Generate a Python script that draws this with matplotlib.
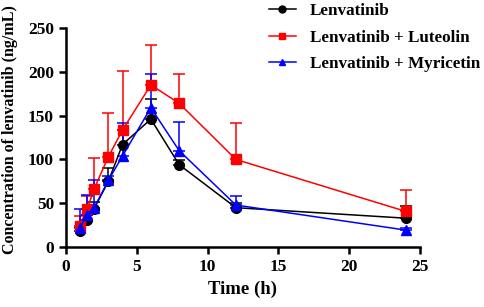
import matplotlib
matplotlib.use("Agg")
import matplotlib.pyplot as plt
from matplotlib.lines import Line2D
import numpy as np

plt.rcParams['font.family'] = ['Liberation Serif', 'DejaVu Serif']
plt.rcParams['font.weight'] = 'bold'

# sampling times (h)
time_h = [1, 1.5, 2, 3, 4, 6, 8, 12, 24]

# mean concentrations (ng/mL)
lenva = [18.6, 30.8, 44, 75, 117, 146, 94, 45, 33]
lenva_lut = [24, 43, 66.6, 103, 133.6, 185, 164, 100, 40.7]
lenva_myr = [22, 37, 45, 76, 104, 159, 110, 48, 19.4]

# upper SD
lenva_sd = [4, 6, 8, 15, 17, 23, 5, 5, 14]
lenva_lut_sd = [11, 15, 35, 50, 67, 46, 34, 42, 25]
lenva_myr_sd = [21, 23, 31, 5, 38, 39, 33, 10, 2]

labels = ['Lenvatinib', 'Lenvatinib + Luteolin', 'Lenvatinib + Myricetin']

fig = plt.figure(figsize=(4.84, 3.07), dpi=100)
ax = fig.add_axes([0.136, 0.195, 0.732, 0.714])

series = [
    (lenva, lenva_sd, 'black', 'o', 7),
    (lenva_lut, lenva_lut_sd, 'red', 's', 6.5),
    (lenva_myr, lenva_myr_sd, 'blue', '^', 6.5),
]
handles = []
for vals, sd, col, mk, ms in series:
    ax.errorbar(time_h, vals, yerr=[np.zeros(len(sd)), sd], color=col,
                marker=mk, markersize=ms, linewidth=1.1, elinewidth=1.1,
                capsize=4, capthick=1.1)
    handles.append(Line2D([], [], color=col, marker=mk, markersize=5, linewidth=1.1))

ax.set_xlim(0, 25)
ax.set_ylim(0, 250)
ax.set_xticks([0, 5, 10, 15, 20, 25])
ax.set_yticks([0, 50, 100, 150, 200, 250])
for s in ['top', 'right']:
    ax.spines[s].set_visible(False)
for s in ['left', 'bottom']:
    ax.spines[s].set_linewidth(1.8)
ax.tick_params(width=1.8, length=5, labelsize=12.5)
for t in ax.get_xticklabels() + ax.get_yticklabels():
    t.set_fontweight('bold')

ax.set_xlabel('Time (h)', fontsize=13.5, fontweight='bold')
ax.set_ylabel('Concentration of lenvatinib (ng/mL)', fontsize=11.5, fontweight='bold')
ax.yaxis.set_label_coords(-0.135, 0.535)

fig.legend(handles, labels, loc='upper left', bbox_to_anchor=(0.548, 1.0),
           frameon=False, borderpad=0.2, borderaxespad=0,
           prop={'size': 12.3, 'weight': 'bold'}, handlelength=1.6,
           handletextpad=0.8, labelspacing=0.6)

fig.savefig('out.png', dpi=100)
